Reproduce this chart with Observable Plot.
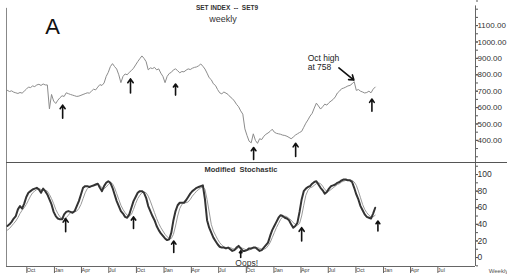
<!DOCTYPE html>
<html>
<head>
<meta charset="utf-8">
<script src="https://cdn.jsdelivr.net/npm/d3@7"></script>
<script src="https://cdn.jsdelivr.net/npm/@observablehq/plot@0.6"></script>
<style>
  html, body { margin: 0; padding: 0; background: #fff; width: 507px; height: 277px; overflow: hidden; }
  #chart svg { display: block; }
</style>
</head>
<body>
<div id="chart"></div>
<script>
// ---- Data (weekly, starting 2006-08-04) ----
const startWeek = "2006-08-04";
const price = [
  705, 698, 702, 694, 690, 686, 692, 688, 700, 712,
  725, 722, 732, 728, 738, 742, 735, 744, 738, 738,
  592, 680, 640, 625, 645, 660, 672, 668, 690, 685,
  680, 676, 672, 668, 670, 675, 680, 685, 690, 688,
  700, 712, 708, 725, 740, 735, 750, 790, 815, 850,
  868, 850, 835, 800, 752, 790, 805, 800, 815, 826,
  840, 860, 880, 898, 915, 900, 880, 830, 842, 838,
  845, 830, 836, 810, 790, 752, 790, 808, 815, 830,
  836, 825, 812, 820, 818, 828, 836, 832, 840, 845,
  848, 855, 866, 852, 835, 810, 782, 770, 745, 735,
  710, 690, 684, 695, 688, 680, 665, 655, 640, 620,
  605, 580, 560, 470, 430, 395, 385, 440, 400, 382,
  410, 405, 425, 437, 445, 455, 468, 450, 443, 440,
  437, 432, 430, 425, 418, 410, 420, 432, 440, 448,
  455, 480, 505, 525, 548, 565, 597, 627, 610, 591,
  605, 621, 615, 630, 640, 650, 665, 689, 700, 715,
  719, 725, 732, 735, 745, 758, 705, 710, 700, 695,
  689, 692, 700, 690, 712, 725
];
const stochK = [
  38, 40, 43, 47, 50, 58, 62, 59, 65, 73,
  78, 80, 82, 83, 84, 82, 78, 83, 80, 76,
  70, 64, 55, 50, 47, 46, 46, 52, 55, 56,
  55, 54, 56, 62, 68, 76, 84, 86, 86, 85,
  86, 87, 88, 89, 84, 80, 86, 90, 92, 90,
  84, 76, 68, 62, 56, 53, 49, 48, 52, 60,
  68, 73, 78, 80, 80, 78, 72, 62, 56, 50,
  45, 38, 33, 29, 26, 23, 21, 22, 30, 45,
  56, 63, 66, 66, 66, 69, 73, 77, 80, 82,
  84, 85, 86, 87, 70, 45, 36, 30, 24, 20,
  16, 13, 12, 12, 11, 12, 10, 8, 9, 12,
  14, 11, 8, 8, 9, 11, 11, 12, 12, 10,
  8, 9, 12, 15, 18, 26, 33, 38, 43, 48,
  51, 50, 48, 47, 45, 40, 36, 38, 42, 55,
  70, 80, 83, 85, 86, 89, 91, 92, 88, 84,
  81, 77, 79, 83, 86, 87, 88, 90, 91, 93,
  94, 94, 93, 93, 91, 84, 76, 70, 62, 57,
  52, 49, 48, 47, 53, 60
];
const stochD = [
  33, 35, 38, 41, 44, 48, 53, 57, 60, 64,
  69, 74, 78, 80, 82, 83, 82, 81, 81, 80,
  76, 71, 65, 58, 53, 49, 47, 47, 48, 51,
  54, 55, 55, 56, 59, 64, 71, 78, 83, 85,
  86, 86, 87, 88, 87, 84, 83, 85, 88, 90,
  89, 84, 77, 70, 63, 58, 54, 51, 50, 52,
  58, 65, 71, 75, 78, 79, 78, 74, 68, 61,
  54, 47, 41, 36, 32, 28, 25, 23, 23, 28,
  38, 50, 59, 64, 66, 66, 67, 70, 74, 77,
  80, 82, 84, 85, 82, 70, 55, 40, 32, 27,
  22, 18, 15, 13, 12, 12, 12, 11, 10, 10,
  12, 12, 11, 10, 9, 9, 10, 11, 12, 12,
  11, 10, 10, 11, 14, 18, 24, 30, 36, 41,
  46, 49, 50, 49, 47, 45, 42, 40, 39, 41,
  50, 63, 75, 81, 84, 85, 87, 89, 90, 89,
  86, 82, 80, 80, 82, 84, 86, 88, 89, 91,
  92, 93, 93, 93, 93, 91, 87, 80, 72, 64,
  58, 54, 51, 49, 49, 51
];
const priceTicks = [400, 500, 600, 700, 800, 900, 1000, 1100];
const stochTicks = [0, 20, 40, 60, 80, 100];
const monthTicks = ["2006-10-01","2007-01-01","2007-04-01","2007-07-01","2007-10-01","2008-01-01","2008-04-01","2008-07-01","2008-10-01","2009-01-01","2009-04-01","2009-07-01","2009-10-01","2010-01-01","2010-04-01","2010-07-01"];

// annotation arrows (date, tip value, tail value)
const priceArrowDates = ["2007-02-04","2007-09-18","2008-02-15","2008-11-01","2009-03-21","2009-11-30"];
const priceArrowTip  = [615, 775, 744, 357, 382, 652];
const priceArrowTail = [535, 689, 676, 283, 302, 578];
const stochArrowDates = ["2007-02-14","2007-09-28","2008-02-09","2008-09-19","2009-04-10","2009-12-20"];
const stochArrowTip  = [47, 49, 20, 8, 36, 44];
const stochArrowTail = [31, 35, 6, 0, 20, 32];

// ---- Build tables ----
const parse = s => new Date(s + "T00:00:00Z");
const t0 = parse(startWeek);
const weeks = price.map((_, i) => d3.utcDay.offset(t0, 7 * i));
const rows = weeks.map((d, i) => ({date: d, price: price[i], k: stochK[i], d: stochD[i]}));
const xDomain = [parse("2006-08-01"), parse("2010-11-10")];
const farRight = parse("2011-08-01");
const mk = (dates, tip, tail) => dates.map((s, i) => ({date: parse(s), tip: tip[i], tail: tail[i]}));
const pArrows = mk(priceArrowDates, priceArrowTip, priceArrowTail);
const sArrows = mk(stochArrowDates, stochArrowTip, stochArrowTail);

const font = "Liberation Sans, Arial, Helvetica, sans-serif";
const W = 507;

// ---- Top panel: SET index ----
const topPanel = Plot.plot({
  width: W, height: 163,
  marginLeft: 6, marginRight: 32, marginTop: 0, marginBottom: 0,
  style: {fontFamily: font, background: "#fff", overflow: "hidden"},
  x: {type: "utc", domain: xDomain, axis: null},
  y: {domain: [259, 1253], axis: null},
  marks: [
    Plot.axisY({anchor: "right", ticks: d3.range(300, 1251, 50), tickSize: 2, tickFormat: () => "", stroke: "#555"}),
    Plot.axisY({anchor: "right", ticks: priceTicks, tickSize: 2, tickPadding: 0,
      tickFormat: d => d.toFixed(2), fontSize: 8, fill: "#333", stroke: "#555"}),
    Plot.ruleX([xDomain[1]], {y1: 259, y2: 1220, stroke: "#666", strokeWidth: 1}),
    Plot.ruleX([xDomain[0]], {y1: 259, y2: 1205, stroke: "#888", strokeWidth: 1}),
    Plot.ruleY([261], {x1: xDomain[0], x2: farRight, stroke: "#555", strokeWidth: 2.2}),
    Plot.lineY(rows, {x: "date", y: "price", stroke: "#8c8c8c", strokeWidth: 1}),
    Plot.arrow(pArrows, {x: "date", y1: "tail", y2: "tip", stroke: "#111", strokeWidth: 1.6, headLength: 6, headAngle: 70}),
    Plot.arrow([{x1: parse("2009-08-12"), y1: 842, x2: parse("2009-10-01"), y2: 768}],
      {x1: "x1", y1: "y1", x2: "x2", y2: "y2", stroke: "#111", strokeWidth: 1.6, headLength: 5, headAngle: 70}),
    Plot.text(["Oct high\nat 758"], {x: parse("2009-04-30"), y: 925, text: d => d, textAnchor: "start", lineAnchor: "top",
      fontSize: 8.5, fill: "#222", lineHeight: 1.05}),
    Plot.text(["A"], {frameAnchor: "top-left", dx: 46, dy: 18, text: d => d, fontSize: 22, fill: "#111", textAnchor: "middle", lineAnchor: "top"}),
    Plot.text(["SET INDEX  --  SET9"], {frameAnchor: "top", dx: -14, dy: 5, text: d => d, fontSize: 6.5, fontWeight: "bold", fill: "#333", lineAnchor: "top"}),
    Plot.text(["weekly"], {frameAnchor: "top", dx: -18, dy: 15, text: d => d, fontSize: 9, fill: "#333", lineAnchor: "top"})
  ]
});

// ---- Bottom panel: Modified Stochastic ----
const bottomPanel = Plot.plot({
  width: W, height: 114,
  marginLeft: 6, marginRight: 32, marginTop: 0, marginBottom: 11,
  style: {fontFamily: font, background: "#fff", overflow: "hidden"},
  x: {type: "utc", domain: xDomain, axis: null},
  y: {domain: [-10.8, 113.3], axis: null},
  marks: [
    Plot.axisY({anchor: "right", ticks: d3.range(-10, 111, 10), tickSize: 2, tickFormat: () => "", stroke: "#555"}),
    Plot.axisY({anchor: "right", ticks: stochTicks, tickSize: 2, tickPadding: 0, fontSize: 8.5, fill: "#333", stroke: "#555"}),
    Plot.axisX({ticks: monthTicks.map(parse), tickSize: 7, tickPadding: -5, tickFormat: d3.utcFormat("%b"),
      textAnchor: "start", dx: 2, fontSize: 5.5, fill: "#444", stroke: "#666"}),
    Plot.ruleX([xDomain[1]], {y1: -10.8, y2: 113.3, stroke: "#666", strokeWidth: 1}),
    Plot.ruleX([xDomain[0]], {y1: -10.8, y2: 113.3, stroke: "#888", strokeWidth: 1}),
    Plot.ruleY([-10.8], {x1: xDomain[0], x2: xDomain[1], stroke: "#666", strokeWidth: 1}),
    Plot.lineY(rows, {x: "date", y: "d", stroke: "#999", strokeWidth: 1}),
    Plot.lineY(rows, {x: "date", y: "k", stroke: "#333", strokeWidth: 2}),
    Plot.arrow(sArrows, {x: "date", y1: "tail", y2: "tip", stroke: "#111", strokeWidth: 1.6, headLength: 6, headAngle: 70}),
    Plot.text(["Oops!"], {x: parse("2008-10-09"), y: -7.2, text: d => d, fontSize: 8.5, fill: "#333"}),
    Plot.text(["Modified  Stochastic"], {frameAnchor: "top", dx: 0, dy: 3, text: d => d, fontSize: 7.5, fontWeight: "bold", fill: "#333", lineAnchor: "top"}),
    Plot.text(["Weekly"], {x: parse("2010-12-24"), y: -16, text: d => d, fontSize: 6, fill: "#555", textAnchor: "start", clip: false})
  ]
});

const el = document.getElementById("chart");
el.append(topPanel, bottomPanel);
</script>
</body>
</html>
